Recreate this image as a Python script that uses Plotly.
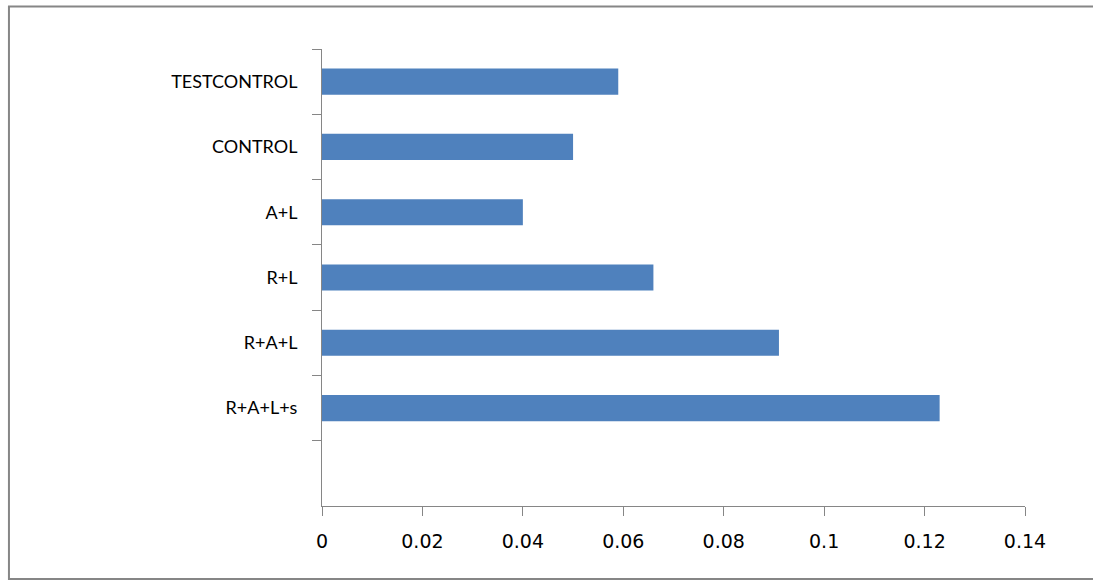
import plotly.graph_objects as go

# Treatment groups, listed bottom to top
categories = ["R+A+L+s", "R+A+L", "R+L", "A+L", "CONTROL", "TESTCONTROL"]
values = [0.123, 0.091, 0.066, 0.040, 0.050, 0.059]
x_ticks = [0, 0.02, 0.04, 0.06, 0.08, 0.1, 0.12, 0.14]
x_tick_labels = ["0", "0.02", "0.04", "0.06", "0.08", "0.1", "0.12", "0.14"]

axis_grey = "#868686"
font = dict(family="Lato, 'Open Sans', sans-serif", size=18, color="#000000")
num_font = dict(family="'DejaVu Sans', sans-serif", size=19, color="#000000")

fig = go.Figure(
    go.Bar(
        x=values,
        y=categories,
        orientation="h",
        marker=dict(color="#4F81BD", line=dict(width=0)),
        width=0.4,
    )
)

fig.update_layout(
    width=1093,
    height=581,
    margin=dict(l=322, r=68, t=49, b=75),
    paper_bgcolor="white",
    plot_bgcolor="white",
    showlegend=False,
    font=font,
    xaxis=dict(
        range=[0, 0.14],
        tickvals=x_ticks,
        ticktext=x_tick_labels,
        showgrid=False,
        zeroline=False,
        showline=True,
        linecolor=axis_grey,
        linewidth=1,
        ticks="outside",
        ticklen=9,
        tickcolor=axis_grey,
        tickfont=num_font,
        ticklabelstandoff=9,
    ),
    yaxis=dict(
        type="category",
        categoryorder="array",
        categoryarray=categories,
        range=[-1.5, 5.5],
        tickson="boundaries",
        showgrid=False,
        zeroline=False,
        showline=True,
        linecolor=axis_grey,
        linewidth=1,
        ticks="outside",
        ticklen=9,
        tickcolor=axis_grey,
        tickfont=font,
        ticklabelstandoff=20,
    ),
    shapes=[
        dict(
            type="rect",
            xref="paper",
            yref="paper",
            x0=-0.4453,
            x1=1.1,
            y0=-0.1597,
            y1=1.0930,
            line=dict(color=axis_grey, width=2),
            fillcolor="rgba(0,0,0,0)",
            layer="below",
        )
    ],
)

fig.write_html("out.html")
